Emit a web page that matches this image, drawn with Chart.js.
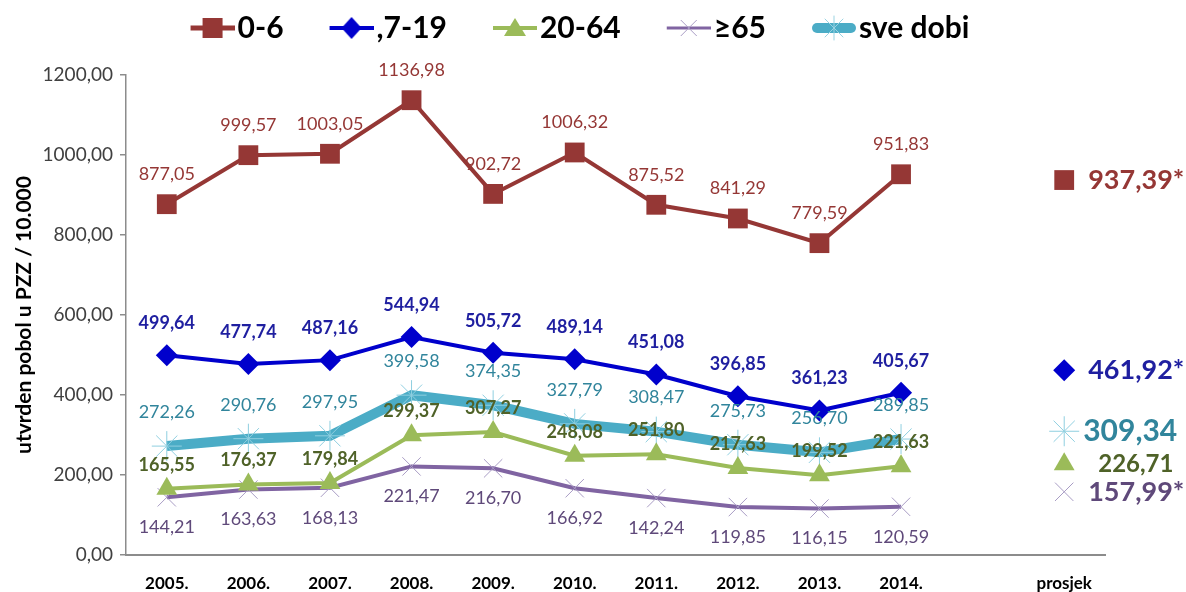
<!DOCTYPE html>
<html>
<head>
<meta charset="utf-8">
<script src="https://cdn.jsdelivr.net/npm/chart.js@4"></script>
<style>
  html, body { margin: 0; padding: 0; background: #fff; }
  #wrap { width: 1186px; height: 592px; }
</style>
</head>
<body>
<div id="wrap"><canvas id="myChart"></canvas></div>
<script>
// ---------------------- data ---------------------
var years = ["2005.", "2006.", "2007.", "2008.", "2009.", "2010.", "2011.", "2012.", "2013.", "2014."];
var avgLabel = "prosjek";
var seriesNames = ["0-6", ",7-19", "20-64", "\u226565", "sve dobi"];

var age0_6   = [877.05, 999.57, 1003.05, 1136.98, 902.72, 1006.32, 875.52, 841.29, 779.59, 951.83];
var age7_19  = [499.64, 477.74, 487.16, 544.94, 505.72, 489.14, 451.08, 396.85, 361.23, 405.67];
var age20_64 = [165.55, 176.37, 179.84, 299.37, 307.27, 248.08, 251.80, 217.63, 199.52, 221.63];
var age65    = [144.21, 163.63, 168.13, 221.47, 216.70, 166.92, 142.24, 119.85, 116.15, 120.59];
var allAges  = [272.26, 290.76, 297.95, 399.58, 374.35, 327.79, 308.47, 275.73, 256.70, 289.85];

var averages  = [937.39, 461.92, 226.71, 157.99, 309.34];
var avgMarked = [true, true, false, true, false];

var yTicks = [0, 200, 400, 600, 800, 1000, 1200];

// ---------------------- helpers ---------------------
function fmt(v) { return v.toFixed(2).replace('.', ','); }

// year values, a gap, then the average in the "prosjek" column
function withAvg(arr, i) { return arr.concat([null, averages[i]]); }

// legend icons: the visible part sits at the right end of the canvas,
// right next to the legend text
var ICON_W = 89, ICON_H = 28, ICON_L = ICON_W - 44;
function makeIcon(draw) {
  var c = document.createElement('canvas');
  c.width = ICON_W; c.height = ICON_H;
  var ctx = c.getContext('2d');
  draw(ctx, ICON_L + 22, 14);
  return c;
}
function iconLine(ctx, color, w, cap) {
  ctx.strokeStyle = color; ctx.lineWidth = w; ctx.lineCap = cap || 'butt';
  var a = cap ? ICON_L + 5 : ICON_L, b = cap ? ICON_W - 5 : ICON_W;
  ctx.beginPath(); ctx.moveTo(a, 14); ctx.lineTo(b, 14); ctx.stroke();
}

var icons = [
  makeIcon(function(ctx, x, y) {
    iconLine(ctx, '#953735', 5);
    ctx.fillStyle = '#953735'; ctx.fillRect(x - 10, y - 10, 20, 20);
  }),
  makeIcon(function(ctx, x, y) {
    iconLine(ctx, '#0000cc', 4);
    ctx.fillStyle = '#0000cc';
    ctx.beginPath(); ctx.moveTo(x, y - 11); ctx.lineTo(x + 10, y); ctx.lineTo(x, y + 11); ctx.lineTo(x - 10, y); ctx.closePath(); ctx.fill();
  }),
  makeIcon(function(ctx, x, y) {
    iconLine(ctx, '#9bbb59', 4);
    ctx.fillStyle = '#9bbb59';
    ctx.beginPath(); ctx.moveTo(x, y - 10); ctx.lineTo(x + 11, y + 8); ctx.lineTo(x - 11, y + 8); ctx.closePath(); ctx.fill();
  }),
  makeIcon(function(ctx, x, y) {
    iconLine(ctx, '#8064a2', 3);
    ctx.strokeStyle = '#a89cc4'; ctx.lineWidth = 1;
    ctx.beginPath(); ctx.moveTo(x - 8, y - 8); ctx.lineTo(x + 8, y + 8); ctx.moveTo(x + 8, y - 8); ctx.lineTo(x - 8, y + 8); ctx.stroke();
  }),
  makeIcon(function(ctx, x, y) {
    iconLine(ctx, '#4bacc6', 10, 'round');
    ctx.strokeStyle = '#9ad3e2'; ctx.lineWidth = 1;
    ctx.beginPath();
    ctx.moveTo(x, y - 12); ctx.lineTo(x, y + 12);
    ctx.moveTo(x - 9, y - 9); ctx.lineTo(x + 9, y + 9); ctx.moveTo(x + 9, y - 9); ctx.lineTo(x - 9, y + 9);
    ctx.stroke();
  })
];

// ---------------------- value labels ---------------------
var valueLabels = {
  id: 'valueLabels',
  afterDatasetsDraw: function(chart) {
    var ctx = chart.ctx;
    chart.data.datasets.forEach(function(ds, i) {
      var meta = chart.getDatasetMeta(i);
      meta.data.forEach(function(pt, j) {
        var v = ds.data[j];
        if (v == null) return;
        ctx.save();
        ctx.fillStyle = ds.labelColor;
        ctx.textBaseline = 'middle';
        if (j === ds.data.length - 1) {
          ctx.font = ds.avgFont;
          ctx.textAlign = 'left';
          ctx.fillText(fmt(v) + (avgMarked[i] ? '*' : ''), pt.x + ds.avgDx, pt.y);
        } else {
          ctx.font = ds.labelFont;
          ctx.textAlign = 'center';
          ctx.fillText(fmt(v), pt.x, pt.y + ds.labelDy);
        }
        ctx.restore();
      });
    });
  }
};

// legend box: fixed height, nudged a bit to the right
var legendBox = {
  id: 'legendBox',
  beforeInit: function(chart) {
    var fit = chart.legend.fit;
    chart.legend.fit = function() {
      fit.bind(chart.legend)();
      this.height = 75;
    };
  },
  beforeDraw: function(chart) {
    chart.legend.left = 11;
    chart.legend.right = chart.width - 81 + 11;
  }
};

// ---------------------- chart ---------------------
new Chart("myChart", {
  type: "line",
  data: {
    labels: years.concat(["", avgLabel]),
    datasets: [{
      label: seriesNames[0],
      data: withAvg(age0_6, 0),
      borderColor: "#953735", backgroundColor: "#953735", borderWidth: 4,
      pointStyle: "rect", pointRadius: 14, pointBorderWidth: 0,
      labelColor: "#953735", labelFont: "18px Lato", labelDy: -30,
      avgFont: "bold 27px Lato", avgDx: 24
    }, {
      label: seriesNames[1],
      data: withAvg(age7_19, 1),
      borderColor: "#0000cc", backgroundColor: "#0000cc", borderWidth: 4,
      pointStyle: "rectRot", pointRadius: 11, pointBorderWidth: 0,
      labelColor: "#1f1fa0", labelFont: "bold 18px Lato", labelDy: -32,
      avgFont: "bold 27px Lato", avgDx: 24
    }, {
      label: seriesNames[2],
      data: withAvg(age20_64, 2),
      borderColor: "#9bbb59", backgroundColor: "#9bbb59", borderWidth: 4,
      pointStyle: "triangle", pointRadius: 12, pointBorderWidth: 0,
      labelColor: "#4f6228", labelFont: "bold 18px Lato", labelDy: -24,
      avgFont: "bold 24px Lato", avgDx: 34
    }, {
      label: seriesNames[3],
      data: withAvg(age65, 3),
      borderColor: "#8064a2", backgroundColor: "#8064a2", borderWidth: 4,
      pointStyle: "crossRot", pointRadius: 13, pointBorderWidth: 1,
      pointBorderColor: "#a89cc4",
      labelColor: "#5f497a", labelFont: "18px Lato", labelDy: 30,
      avgFont: "bold 27px Lato", avgDx: 24
    }, {
      label: seriesNames[4],
      data: withAvg(allAges, 4),
      borderColor: "#4bacc6", backgroundColor: "#4bacc6", borderWidth: 10,
      pointStyle: "star", pointRadius: 15, pointBorderWidth: 1,
      pointBorderColor: "#8fcfe0",
      labelColor: "#31859c", labelFont: "18px Lato", labelDy: -34,
      avgFont: "bold 30px Lato", avgDx: 19
    }]
  },
  options: {
    responsive: true,
    maintainAspectRatio: false,
    animation: false,
    spanGaps: false,
    layout: { padding: { left: 0, right: 81, top: 0, bottom: 0 } },
    elements: { line: { tension: 0 } },
    plugins: {
      tooltip: { enabled: false },
      legend: {
        position: "top",
        labels: {
          usePointStyle: true,
          pointStyleWidth: 65,
          boxHeight: 28,
          padding: 13,
          color: "#000",
          font: { family: "Lato", size: 30, weight: "bold" },
          generateLabels: function(chart) {
            return chart.data.datasets.map(function(ds, i) {
              return { text: ds.label, pointStyle: icons[i], datasetIndex: i, hidden: false, lineWidth: 0, fontColor: "#000" };
            });
          }
        }
      }
    },
    scales: {
      x: {
        offset: true,
        grid: { display: false },
        border: { display: true, color: "#8c8c8c", width: 2 },
        ticks: { color: "#000", padding: 10, maxRotation: 0, font: { family: "Lato", size: 17, weight: "bold" } },
        afterFit: function(scale) { scale.height = 37; }
      },
      y: {
        min: 0,
        max: 1200,
        afterBuildTicks: function(scale) { scale.ticks = yTicks.map(function(v) { return { value: v }; }); },
        grid: { display: true, drawOnChartArea: false, drawTicks: true, tickLength: 6, color: "#8c8c8c", lineWidth: 1.5 },
        border: { display: true, color: "#8c8c8c", width: 1.5 },
        ticks: {
          color: "#404040", padding: 7,
          font: { family: "Lato", size: 19 },
          callback: function(v) { return fmt(v); }
        },
        title: {
          display: true,
          text: "utvrden pobol u PZZ / 10.000",
          color: "#000",
          padding: { top: 12, bottom: 0 },
          font: { family: "Lato", size: 21, weight: "bold" }
        },
        afterFit: function(scale) { scale.width = 126; }
      }
    }
  },
  plugins: [valueLabels, legendBox]
});
</script>
</body>
</html>
